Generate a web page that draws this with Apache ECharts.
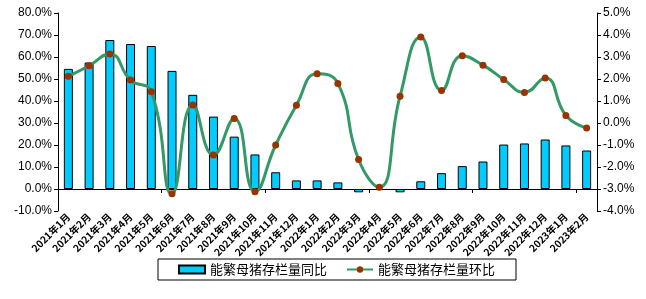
<!DOCTYPE html>
<html>
<head>
<meta charset="utf-8">
<script src="https://cdn.jsdelivr.net/npm/echarts@6/dist/echarts.min.js"></script>
<style>
  html, body { margin: 0; padding: 0; background: #fff; }
  #main { width: 646px; height: 299px; }
</style>
</head>
<body>
<div id="main"></div>
<script>
// 月份
var months = [
  '2021年1月', '2021年2月', '2021年3月', '2021年4月', '2021年5月', '2021年6月',
  '2021年7月', '2021年8月', '2021年9月', '2021年10月', '2021年11月', '2021年12月',
  '2022年1月', '2022年2月', '2022年3月', '2022年4月', '2022年5月', '2022年6月',
  '2022年7月', '2022年8月', '2022年9月', '2022年10月', '2022年11月', '2022年12月',
  '2023年1月', '2023年2月'
];
// 同比 (%)
var yoy = [54.6, 57.5, 67.7, 65.9, 65.0, 53.7, 42.8, 32.9, 23.8, 15.7, 7.6, 3.9, 3.9,
  3.0, -1.5, -0.5, -1.5, 3.5, 7.2, 10.4, 12.5, 20.2, 20.7, 22.5, 19.8, 17.5];
// 环比 (%)
var mom = [2.12, 2.60, 3.14, 1.95, 1.42, -3.22, 0.82, -1.46, 0.21, -3.12, -1.0, 0.81, 2.24,
  1.80, -1.66, -2.92, 1.22, 3.91, 1.48, 3.06, 2.63, 1.98, 1.39, 2.05, 0.34, -0.23];

var chart = echarts.init(document.getElementById('main'), null, { renderer: 'canvas' });

var pct = function (v) { return v.toFixed(1) + '%'; };
var axisFont = { color: '#000', fontSize: 12, fontFamily: 'Liberation Sans, Arial, sans-serif' };

var option = {
  animation: false,
  backgroundColor: '#fff',
  grid: { left: 58, right: 49, top: 13, bottom: 88 },
  legend: {
    left: 158,
    top: 259,
    padding: [4, 21, 4, 20],
    itemGap: 19,
    itemWidth: 26,
    itemHeight: 8,
    borderColor: '#000',
    borderWidth: 1,
    borderRadius: 0,
    textStyle: { fontSize: 13, color: '#000', fontFamily: 'Noto Sans CJK SC' },
    data: [
      { name: '能繁母猪存栏量同比', icon: 'rect' },
      { name: '能繁母猪存栏量环比' }
    ]
  },
  xAxis: [{
    type: 'category',
    data: months,
    boundaryGap: true,
    axisLine: { show: false, onZero: false },
    axisTick: { show: false },
    axisLabel: {
      interval: 0,
      rotate: 45,
      margin: 4,
      fontSize: 10,
      fontWeight: 'bold',
      color: '#000',
      fontFamily: 'Noto Sans CJK SC'
    }
  }, {
    type: 'category',
    data: months,
    boundaryGap: true,
    axisLine: { show: true, onZero: true, onZeroAxisIndex: 0, lineStyle: { color: '#000', width: 1 } },
    axisTick: { show: true, inside: true, length: 4, lineStyle: { color: '#000' } },
    axisLabel: { show: false }
  }],
  yAxis: [{
    type: 'value',
    min: -10,
    max: 80,
    interval: 10,
    splitLine: { show: false },
    axisLine: { show: true, lineStyle: { color: '#000' } },
    axisTick: { show: true, length: 4, lineStyle: { color: '#000' } },
    axisLabel: Object.assign({ formatter: pct, margin: 6 }, axisFont)
  }, {
    type: 'value',
    min: -4,
    max: 5,
    interval: 1,
    splitLine: { show: false },
    axisLine: { show: true, lineStyle: { color: '#000' } },
    axisTick: { show: true, length: 4, lineStyle: { color: '#000' } },
    axisLabel: Object.assign({ formatter: pct, margin: 6 }, axisFont)
  }],
  series: [{
    name: '能繁母猪存栏量同比',
    type: 'bar',
    xAxisIndex: 0,
    yAxisIndex: 0,
    data: yoy,
    barWidth: 9,
    itemStyle: { color: '#00CCFF', borderColor: '#000', borderWidth: 1 }
  }, {
    name: '能繁母猪存栏量环比',
    type: 'line',
    xAxisIndex: 0,
    yAxisIndex: 1,
    data: mom,
    smooth: 0.5,
    symbol: 'circle',
    symbolSize: 7,
    lineStyle: { color: '#339966', width: 3 },
    itemStyle: { color: '#993300', borderWidth: 0 },
    z: 5
  }]
};

chart.setOption(option);
</script>
</body>
</html>
